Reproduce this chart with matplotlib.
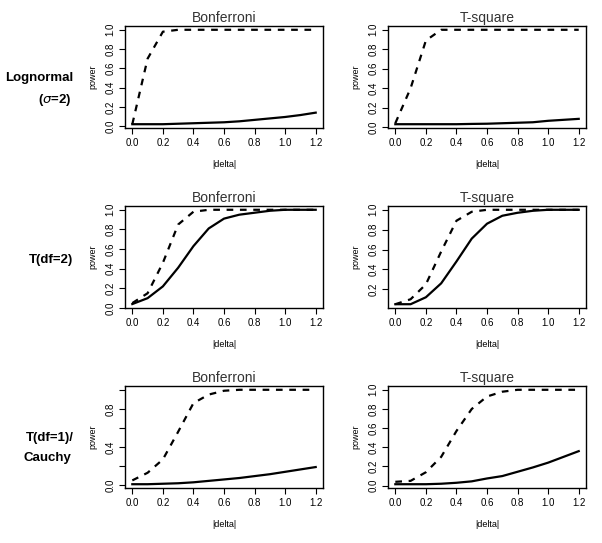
import numpy as np
import matplotlib
matplotlib.use("Agg")
import matplotlib.pyplot as plt

plt.rcParams['font.family'] = ['Liberation Sans', 'DejaVu Sans']

# power curves
delta = [0.0, 0.1, 0.2, 0.3, 0.4, 0.5, 0.6, 0.7, 0.8, 0.9, 1.0, 1.1, 1.2]

# Lognormal (sigma=2)
logn_bonf_dash = [0.02, 0.70, 0.98, 1.0, 1.0, 1.0, 1.0, 1.0, 1.0, 1.0, 1.0, 1.0, 1.0]
logn_bonf_solid = [0.02, 0.02, 0.02, 0.025, 0.03, 0.035, 0.04, 0.05, 0.065, 0.08, 0.095, 0.115, 0.14]
logn_tsq_dash = [0.04, 0.40, 0.89, 1.0, 1.0, 1.0, 1.0, 1.0, 1.0, 1.0, 1.0, 1.0, 1.0]
logn_tsq_solid = [0.03, 0.03, 0.03, 0.03, 0.03, 0.033, 0.035, 0.04, 0.045, 0.05, 0.065, 0.075, 0.085]

# T(df=2)
t2_bonf_dash = [0.05, 0.15, 0.46, 0.85, 0.98, 1.0, 1.0, 1.0, 1.0, 1.0, 1.0, 1.0, 1.0]
t2_bonf_solid = [0.04, 0.10, 0.22, 0.41, 0.63, 0.81, 0.91, 0.95, 0.97, 0.99, 1.0, 1.0, 1.0]
t2_tsq_dash = [0.05, 0.10, 0.25, 0.58, 0.89, 0.98, 1.0, 1.0, 1.0, 1.0, 1.0, 1.0, 1.0]
t2_tsq_solid = [0.05, 0.05, 0.12, 0.26, 0.48, 0.71, 0.86, 0.94, 0.97, 0.99, 1.0, 1.0, 1.0]

# T(df=1) / Cauchy
c_bonf_dash = [0.05, 0.13, 0.27, 0.56, 0.86, 0.95, 0.99, 1.0, 1.0, 1.0, 1.0, 1.0, 1.0]
c_bonf_solid = [0.01, 0.01, 0.015, 0.02, 0.03, 0.045, 0.06, 0.075, 0.095, 0.115, 0.14, 0.165, 0.19]
c_tsq_dash = [0.04, 0.05, 0.14, 0.30, 0.57, 0.80, 0.93, 0.98, 1.0, 1.0, 1.0, 1.0, 1.0]
c_tsq_solid = [0.015, 0.015, 0.015, 0.02, 0.03, 0.045, 0.075, 0.10, 0.145, 0.19, 0.24, 0.30, 0.36]

xticks = [0.0, 0.2, 0.4, 0.6, 0.8, 1.0, 1.2]
col_titles = ["Bonferroni", "T-square"]

panels = [
    [(logn_bonf_dash, logn_bonf_solid), (logn_tsq_dash, logn_tsq_solid)],
    [(t2_bonf_dash, t2_bonf_solid), (t2_tsq_dash, t2_tsq_solid)],
    [(c_bonf_dash, c_bonf_solid), (c_tsq_dash, c_tsq_solid)],
]
# y ticks / labels like R's pretty() output
yticks = [
    [[0, 0.2, 0.4, 0.6, 0.8, 1.0], [0, 0.2, 0.4, 0.6, 0.8, 1.0]],
    [[0, 0.2, 0.4, 0.6, 0.8, 1.0], [0.2, 0.4, 0.6, 0.8, 1.0]],
    [[0, 0.2, 0.4, 0.6, 0.8, 1.0], [0, 0.2, 0.4, 0.6, 0.8, 1.0]],
]
ylabels_shown = [
    [None, None],
    [None, None],
    [[0, 0.4, 0.8], None],
]

fig = plt.figure(figsize=(6.02, 5.43), dpi=100)
lefts = [0.2076, 0.6445]
bottoms = [0.7643, 0.4328, 0.1013]
w, h = 0.329, 0.1878

for r in range(3):
    for c in range(2):
        ax = fig.add_axes([lefts[c], bottoms[r], w, h])
        dash, solid = panels[r][c]
        ax.plot(delta, dash, color='black', lw=1.6, linestyle=(0, (3, 3)))
        ax.plot(delta, solid, color='black', lw=1.6)
        lo = min(min(dash), min(solid))
        hi = max(max(dash), max(solid))
        pad = (hi - lo) * 0.04
        ax.set_ylim(lo - pad, hi + pad)
        ax.set_xlim(-0.048, 1.248)
        ax.set_xticks(xticks)
        ax.set_xticklabels([f"{t:.1f}" for t in xticks], fontsize=7)
        yt = yticks[r][c]
        ax.set_yticks(yt)
        shown = ylabels_shown[r][c]
        ax.set_yticklabels([f"{t:.1f}" if (shown is None or t in shown) else "" for t in yt],
                           fontsize=7, rotation=90, va='center')
        ax.tick_params(direction='out', length=4, width=0.8, pad=3)
        for s in ax.spines.values():
            s.set_linewidth(1.0)
        ax.set_title(col_titles[c], fontsize=10, pad=3, color='#333333')
        ax.set_xlabel("|delta|", fontsize=6.5, labelpad=9)
        ax.set_ylabel("power", fontsize=6.5, labelpad=6)

# row labels, right-aligned just left of the "power" labels
lab_x = 0.122
lab_fs = 9.5
fig.text(lab_x, 0.856, "Lognormal", fontsize=lab_fs, fontweight='bold', va='center', ha='right')
fig.text(lab_x - 0.003, 0.816, "($\\sigma$=2)", fontsize=lab_fs, fontweight='bold', va='center', ha='right')
fig.text(lab_x, 0.521, "T(df=2)", fontsize=lab_fs, fontweight='bold', va='center', ha='right')
fig.text(lab_x, 0.193, "T(df=1)/", fontsize=lab_fs, fontweight='bold', va='center', ha='right')
fig.text(lab_x - 0.004, 0.156, "Cauchy", fontsize=lab_fs, fontweight='bold', va='center', ha='right')

fig.savefig("out.png", dpi=100)
